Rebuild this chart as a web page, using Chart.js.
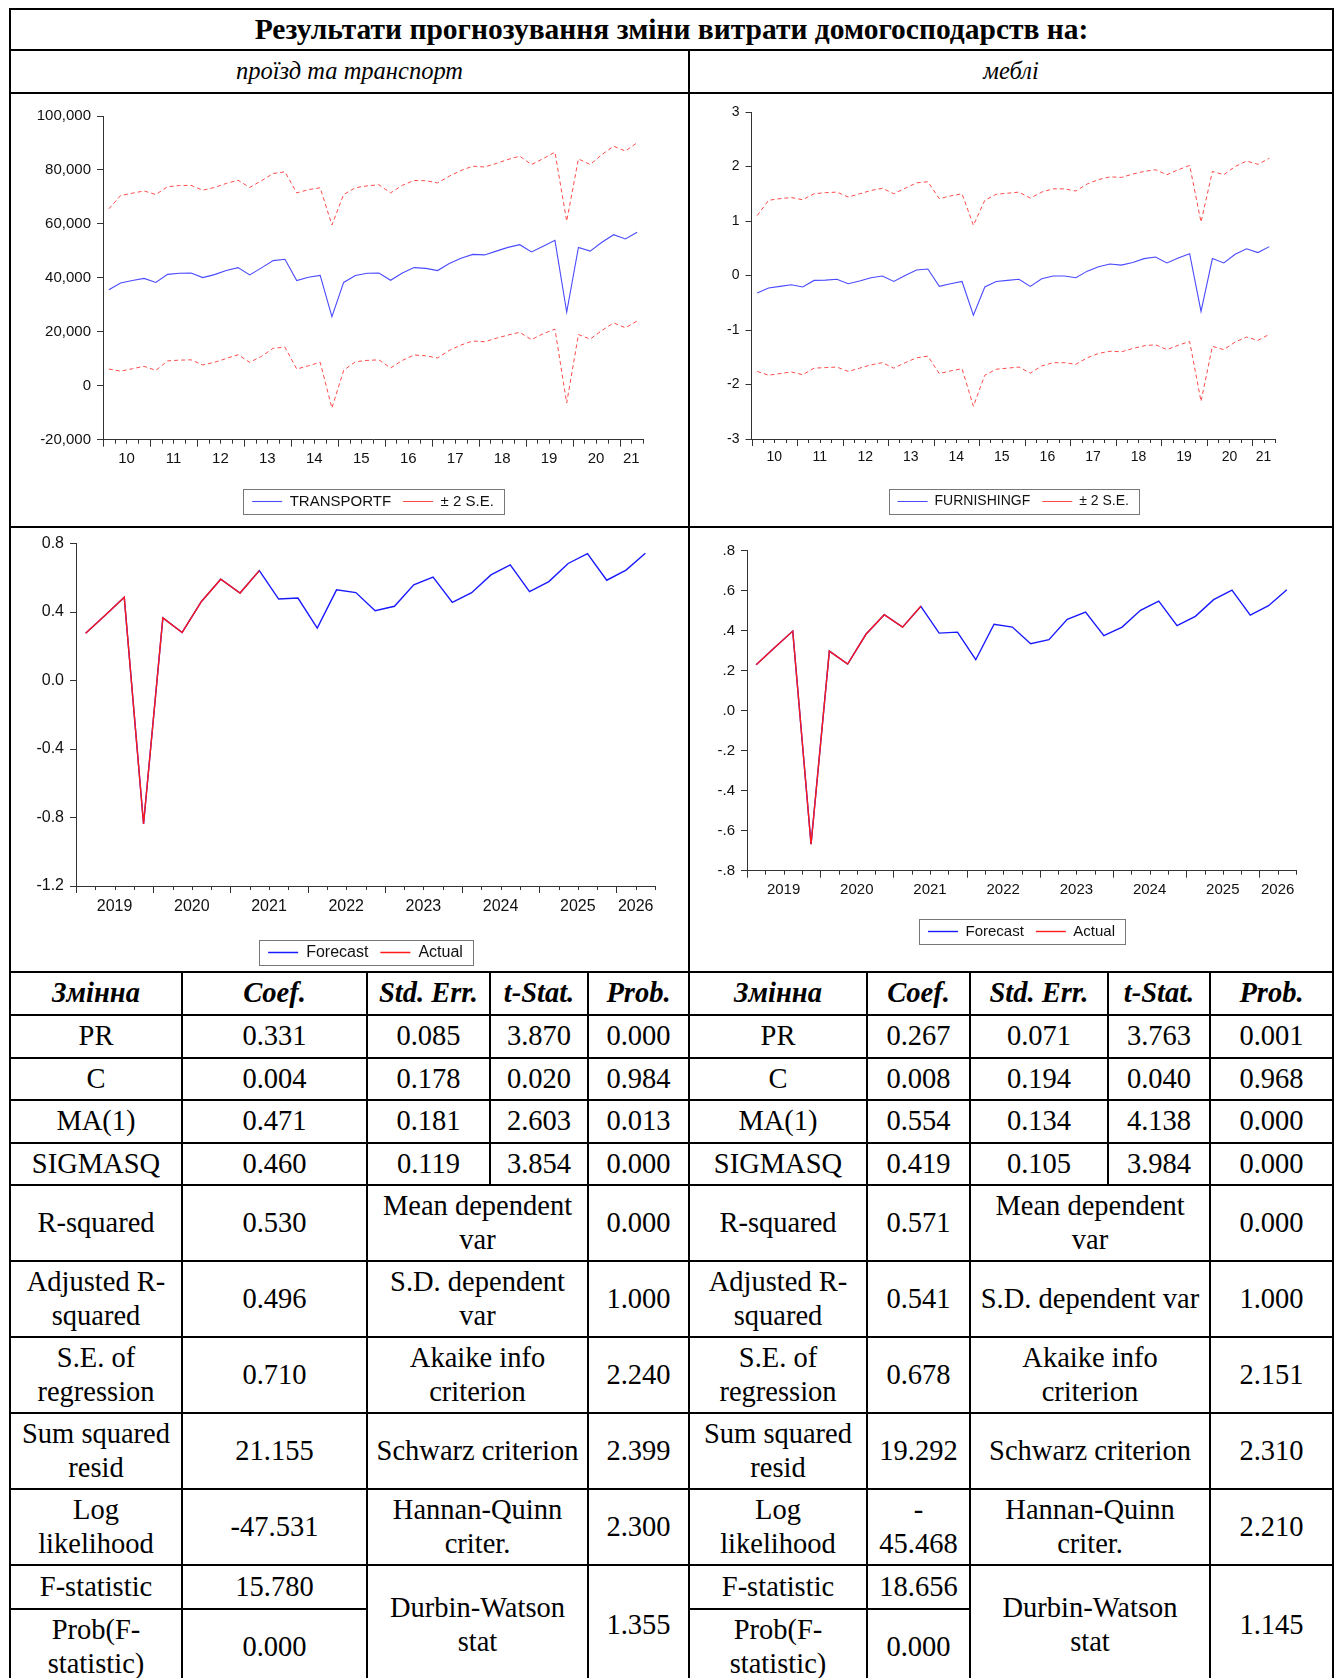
<!DOCTYPE html>
<html lang="uk">
<head>
<meta charset="utf-8">
<script src="https://cdn.jsdelivr.net/npm/chart.js@4.4.1/dist/chart.umd.min.js"></script>
<style>
  html, body { margin: 0; padding: 0; background: #fff; }
  body { width: 1335px; height: 1678px; overflow: hidden; position: relative; }
  table.sheet {
    position: absolute; left: 9px; top: 8px; width: 1325px;
    border-collapse: collapse; table-layout: fixed;
    font-family: 'Liberation Serif', 'Times New Roman', serif;
    font-size: 28.5px; line-height: 1.2; color: #000;
  }
  .sheet td { border: 2px solid #000; padding: 0 4px; text-align: center; vertical-align: middle; white-space: nowrap; overflow: hidden; }
  .sheet td.plot { padding: 0; vertical-align: top; }
  .plotbox { position: relative; }
  .title td { font-weight: bold; font-size: 29.5px; line-height: 1.1; }
  .sub td { font-style: italic; font-size: 24.5px; line-height: 1.1; }
  .head td { font-weight: bold; font-style: italic; }
</style>
</head>
<body>
<table class="sheet">
  <colgroup>
    <col style="width:172px"><col style="width:185px"><col style="width:123px"><col style="width:98px"><col style="width:101px">
    <col style="width:178px"><col style="width:103px"><col style="width:138px"><col style="width:102px"><col style="width:123px">
  </colgroup>
  <tr class="title" style="height:41px"><td colspan="10">Результати прогнозування зміни витрати домогосподарств на:</td></tr>
  <tr class="sub" style="height:43px"><td colspan="5">проїзд та транспорт</td><td colspan="5">меблі</td></tr>
  <tr>
    <td class="plot" colspan="5"><div class="plotbox" style="height:432px"><canvas id="transportBand"></canvas></div></td>
    <td class="plot" colspan="5"><div class="plotbox" style="height:432px"><canvas id="furnishingBand"></canvas></div></td>
  </tr>
  <tr>
    <td class="plot" colspan="5"><div class="plotbox" style="height:443px"><canvas id="transportFc"></canvas></div></td>
    <td class="plot" colspan="5"><div class="plotbox" style="height:443px"><canvas id="furnishingFc"></canvas></div></td>
  </tr>
  <tr class="head" style="height:43px">
    <td>Змінна</td><td>Coef.</td><td>Std. Err.</td><td>t-Stat.</td><td>Prob.</td>
    <td>Змінна</td><td>Coef.</td><td>Std. Err.</td><td>t-Stat.</td><td>Prob.</td>
  </tr>
  <tr style="height:43px"><td>PR</td><td>0.331</td><td>0.085</td><td>3.870</td><td>0.000</td><td>PR</td><td>0.267</td><td>0.071</td><td>3.763</td><td>0.001</td></tr>
  <tr style="height:42px"><td>C</td><td>0.004</td><td>0.178</td><td>0.020</td><td>0.984</td><td>C</td><td>0.008</td><td>0.194</td><td>0.040</td><td>0.968</td></tr>
  <tr style="height:43px"><td>MA(1)</td><td>0.471</td><td>0.181</td><td>2.603</td><td>0.013</td><td>MA(1)</td><td>0.554</td><td>0.134</td><td>4.138</td><td>0.000</td></tr>
  <tr style="height:42px"><td>SIGMASQ</td><td>0.460</td><td>0.119</td><td>3.854</td><td>0.000</td><td>SIGMASQ</td><td>0.419</td><td>0.105</td><td>3.984</td><td>0.000</td></tr>
  <tr style="height:76px"><td>R-squared</td><td>0.530</td><td colspan="2">Mean dependent<br>var</td><td>0.000</td><td>R-squared</td><td>0.571</td><td colspan="2">Mean dependent<br>var</td><td>0.000</td></tr>
  <tr style="height:76px"><td>Adjusted R-<br>squared</td><td>0.496</td><td colspan="2">S.D. dependent<br>var</td><td>1.000</td><td>Adjusted R-<br>squared</td><td>0.541</td><td colspan="2">S.D. dependent var</td><td>1.000</td></tr>
  <tr style="height:76px"><td>S.E. of<br>regression</td><td>0.710</td><td colspan="2">Akaike info<br>criterion</td><td>2.240</td><td>S.E. of<br>regression</td><td>0.678</td><td colspan="2">Akaike info<br>criterion</td><td>2.151</td></tr>
  <tr style="height:76px"><td>Sum squared<br>resid</td><td>21.155</td><td colspan="2">Schwarz criterion</td><td>2.399</td><td>Sum squared<br>resid</td><td>19.292</td><td colspan="2">Schwarz criterion</td><td>2.310</td></tr>
  <tr style="height:76px"><td>Log<br>likelihood</td><td>-47.531</td><td colspan="2">Hannan-Quinn<br>criter.</td><td>2.300</td><td>Log<br>likelihood</td><td>-<br>45.468</td><td colspan="2">Hannan-Quinn<br>criter.</td><td>2.210</td></tr>
  <tr style="height:44px"><td>F-statistic</td><td>15.780</td><td colspan="2" rowspan="2">Durbin-Watson<br>stat</td><td rowspan="2">1.355</td><td>F-statistic</td><td>18.656</td><td colspan="2" rowspan="2">Durbin-Watson<br>stat</td><td rowspan="2">1.145</td></tr>
  <tr style="height:76px"><td>Prob(F-<br>statistic)</td><td>0.000</td><td>Prob(F-<br>statistic)</td><td>0.000</td></tr>
</table>

<script>
// quarters of the history sample (top charts)
const histQuarters = [
  '2010Q1','2010Q2','2010Q3','2010Q4','2011Q1','2011Q2','2011Q3','2011Q4',
  '2012Q1','2012Q2','2012Q3','2012Q4','2013Q1','2013Q2','2013Q3','2013Q4',
  '2014Q1','2014Q2','2014Q3','2014Q4','2015Q1','2015Q2','2015Q3','2015Q4',
  '2016Q1','2016Q2','2016Q3','2016Q4','2017Q1','2017Q2','2017Q3','2017Q4',
  '2018Q1','2018Q2','2018Q3','2018Q4','2019Q1','2019Q2','2019Q3','2019Q4',
  '2020Q1','2020Q2','2020Q3','2020Q4','2021Q1','2021Q2'
];
// quarters of the forecast horizon (bottom charts)
const fcQuarters = [
  '2019Q1','2019Q2','2019Q3','2019Q4','2020Q1','2020Q2','2020Q3','2020Q4',
  '2021Q1','2021Q2','2021Q3','2021Q4','2022Q1','2022Q2','2022Q3','2022Q4',
  '2023Q1','2023Q2','2023Q3','2023Q4','2024Q1','2024Q2','2024Q3','2024Q4',
  '2025Q1','2025Q2','2025Q3','2025Q4','2026Q1','2026Q2'
];

const transportF = [35600, 38100, 39000, 39800, 38300, 41300, 41700, 41800, 40100, 41200, 42700, 43800,
  41100, 43700, 46400, 46900, 39000, 40200, 40900, 25600, 38300, 40900, 41700, 41800, 39100, 41800,
  43800, 43500, 42700, 45300, 47300, 48700, 48500, 49900, 51300, 52300, 49600, 51700, 53900, 27300,
  51300, 49900, 53200, 56000, 54400, 56900];
const transportUpper = [65600, 70500, 71400, 72200, 70900, 73800, 74200, 74300, 72500, 73500, 75000, 76200,
  73500, 76000, 78700, 79300, 71500, 72700, 73400, 59600, 70900, 73400, 74100, 74500, 71500, 74300,
  76100, 76000, 75200, 77700, 79800, 81400, 81100, 82400, 83900, 85100, 82000, 84200, 86600, 61000,
  84100, 82000, 85700, 88800, 87000, 90100];
const transportLower = [6200, 5400, 6300, 7200, 5700, 9200, 9500, 9600, 7700, 8700, 10100, 11500,
  8700, 10900, 13900, 14300, 6200, 7400, 8700, -8300, 5700, 8900, 9400, 9600, 6600, 9400,
  11400, 11100, 10300, 13100, 15100, 16600, 16300, 17600, 18800, 19800, 17100, 19300, 21000, -6400,
  19000, 17300, 20500, 23300, 21500, 24000];

const furnishingF = [-0.32, -0.23, -0.20, -0.17, -0.21, -0.09, -0.085, -0.07, -0.15, -0.10, -0.04, -0.01,
  -0.11, 0.00, 0.10, 0.12, -0.20, -0.15, -0.11, -0.73, -0.21, -0.11, -0.09, -0.07, -0.20, -0.06,
  -0.01, -0.01, -0.04, 0.08, 0.16, 0.21, 0.19, 0.24, 0.31, 0.34, 0.23, 0.32, 0.40, -0.66,
  0.31, 0.23, 0.39, 0.49, 0.42, 0.53];
const furnishingUpper = [1.10, 1.38, 1.41, 1.43, 1.39, 1.50, 1.52, 1.53, 1.44, 1.50, 1.56, 1.60,
  1.50, 1.60, 1.70, 1.72, 1.41, 1.46, 1.50, 0.92, 1.38, 1.49, 1.51, 1.53, 1.42, 1.53,
  1.59, 1.59, 1.55, 1.68, 1.76, 1.81, 1.80, 1.86, 1.91, 1.94, 1.85, 1.94, 2.02, 0.98,
  1.91, 1.85, 2.00, 2.10, 2.04, 2.15];
const furnishingLower = [-1.76, -1.83, -1.80, -1.77, -1.82, -1.70, -1.69, -1.68, -1.76, -1.70, -1.64, -1.60,
  -1.70, -1.60, -1.51, -1.48, -1.80, -1.75, -1.71, -2.40, -1.83, -1.72, -1.70, -1.68, -1.79, -1.66,
  -1.60, -1.60, -1.63, -1.51, -1.43, -1.39, -1.40, -1.34, -1.29, -1.27, -1.36, -1.28, -1.21, -2.31,
  -1.30, -1.36, -1.22, -1.13, -1.19, -1.08];

const transportForecast = [0.276, 0.38, 0.486, -0.838, 0.366, 0.281, 0.462, 0.592, 0.511, 0.642,
  0.476, 0.482, 0.306, 0.530, 0.514, 0.408, 0.434, 0.559, 0.605, 0.457,
  0.513, 0.617, 0.676, 0.520, 0.578, 0.684, 0.742, 0.586, 0.645, 0.744];
const transportActual = [0.276, 0.38, 0.486, -0.838, 0.366, 0.281, 0.462, 0.592, 0.511, 0.642];

const furnishingForecast = [0.230, 0.315, 0.398, -0.668, 0.298, 0.233, 0.382, 0.480, 0.418, 0.522,
  0.388, 0.393, 0.255, 0.432, 0.418, 0.335, 0.355, 0.457, 0.493, 0.375,
  0.418, 0.502, 0.548, 0.425, 0.472, 0.555, 0.603, 0.478, 0.525, 0.605];
const furnishingActual = [0.230, 0.315, 0.398, -0.668, 0.298, 0.233, 0.382, 0.480, 0.418, 0.522];

const AXIS = '#333';
const INK = '#111';
const SANS = "'Liberation Sans', Arial, sans-serif";

const pts = (arr) => arr.map((v, i) => ({ x: i, y: v }));

// year groups -> label at the middle of that year's quarters
const yearTicks = (quarters, short) => {
  const years = [];
  quarters.forEach((q, i) => {
    const y = q.slice(0, 4);
    const last = years[years.length - 1];
    if (last && last.year === y) last.end = i;
    else years.push({ year: y, start: i, end: i });
  });
  return years.map(g => ({ value: (g.start + g.end) / 2, label: short ? g.year.slice(2) : g.year }));
};

// quarter tick marks under the x axis, longer at each new year
const quarterTicks = {
  id: 'quarterTicks',
  afterDraw(chart) {
    const xs = chart.scales.x;
    const labels = chart.data.labels;
    const ctx = chart.ctx;
    ctx.save();
    ctx.strokeStyle = AXIS;
    ctx.lineWidth = 1;
    ctx.beginPath();
    for (let i = 0; i <= labels.length; i++) {
      const px = Math.round(xs.getPixelForValue(i - 0.5)) + 0.5;
      const major = i < labels.length && labels[i].endsWith('Q1');
      ctx.moveTo(px, xs.top);
      ctx.lineTo(px, xs.top + (major ? 7 : 4));
    }
    ctx.stroke();
    ctx.restore();
  }
};

// EViews-like frame around the legend
const legendFrame = {
  id: 'legendFrame',
  afterDraw(chart) {
    const lg = chart.legend;
    if (!lg || !lg.legendHitBoxes || !lg.legendHitBoxes.length) return;
    const boxes = lg.legendHitBoxes;
    const left = Math.min(...boxes.map(b => b.left)) - 9;
    const right = Math.max(...boxes.map(b => b.left + b.width)) + 10;
    const mid = boxes[0].top + boxes[0].height / 2;
    const ctx = chart.ctx;
    ctx.save();
    ctx.strokeStyle = '#777';
    ctx.lineWidth = 1;
    ctx.strokeRect(Math.round(left) + 0.5, Math.round(mid - 12.5) + 0.5, Math.round(right - left), 25);
    ctx.restore();
  }
};

const makeChart = (id, o) => {
  const ticksX = yearTicks(o.quarters, o.shortYears);
  const font = { family: SANS, size: o.fontSize };
  return new Chart(document.getElementById(id), {
    type: 'line',
    data: { labels: o.quarters, datasets: o.datasets },
    options: {
      responsive: true,
      maintainAspectRatio: false,
      animation: false,
      devicePixelRatio: 1,
      layout: { padding: { top: o.pad.top, right: o.pad.right, bottom: o.pad.bottom, left: 0 } },
      elements: { point: { radius: 0 }, line: { tension: 0 } },
      scales: {
        x: {
          type: 'linear',
          min: -0.5,
          max: o.quarters.length - 0.5,
          grid: { display: false, drawTicks: false },
          border: { display: true, color: AXIS, width: 1 },
          afterBuildTicks: (s) => { s.ticks = ticksX.map(t => ({ value: t.value })); },
          afterFit: (s) => { s.height = o.xHeight; },
          ticks: {
            autoSkip: false, maxRotation: 0, padding: o.xPad, color: INK, font,
            callback: (v, i) => ticksX[i] ? ticksX[i].label : ''
          }
        },
        y: {
          min: o.yMin, max: o.yMax,
          grid: { drawOnChartArea: false, drawTicks: true, tickLength: 6, color: AXIS },
          border: { color: AXIS, width: 1 },
          afterFit: (s) => { s.width = o.yWidth; },
          ticks: { stepSize: o.yStep, padding: 6, color: INK, font, callback: o.yFormat }
        }
      },
      plugins: {
        tooltip: { enabled: false },
        legend: {
          position: 'bottom',
          fullSize: false,
          labels: {
            usePointStyle: true, pointStyle: 'line', pointStyleWidth: 30, boxHeight: o.fontSize,
            padding: 12, color: INK, font,
            filter: (item) => !o.hideInLegend || !o.hideInLegend.includes(item.datasetIndex),
            sort: (a, b) => a.datasetIndex - b.datasetIndex
          }
        }
      }
    },
    plugins: [quarterTicks, legendFrame]
  });
};

const bandSets = (name, mid, up, low) => [
  { label: name, data: pts(mid), borderColor: '#4a4aff', borderWidth: 1.1 },
  { label: '\u00b1 2 S.E.', data: pts(up), borderColor: '#ff4a4a', borderWidth: 1, borderDash: [4, 3] },
  { label: '\u00b1 2 S.E.', data: pts(low), borderColor: '#ff4a4a', borderWidth: 1, borderDash: [4, 3] }
];

const fcSets = (fc, act) => [
  { label: 'Forecast', data: pts(fc), borderColor: '#1a1aff', borderWidth: 1.4, order: 1 },
  { label: 'Actual', data: pts(act), borderColor: '#ff1a1a', borderWidth: 1.4, order: 0 }
];

makeChart('transportBand', {
  quarters: histQuarters, shortYears: true, fontSize: 15,
  datasets: bandSets('TRANSPORTF', transportF, transportUpper, transportLower),
  hideInLegend: [2],
  yMin: -20000, yMax: 100000, yStep: 20000,
  yFormat: (v) => v.toLocaleString('en-US'),
  pad: { top: 22, right: 45, bottom: 7 }, yWidth: 92, xHeight: 42.3, xPad: 10
});

makeChart('furnishingBand', {
  quarters: histQuarters, shortYears: true, fontSize: 14,
  datasets: bandSets('FURNISHINGF', furnishingF, furnishingUpper, furnishingLower),
  hideInLegend: [2],
  yMin: -3, yMax: 3, yStep: 1,
  yFormat: (v) => String(Math.round(v)),
  pad: { top: 18, right: 57, bottom: 7.5 }, yWidth: 61.5, xHeight: 43.5, xPad: 9.6
});

makeChart('transportFc', {
  quarters: fcQuarters, shortYears: false, fontSize: 16,
  datasets: fcSets(transportForecast, transportActual),
  yMin: -1.2, yMax: 0.8, yStep: 0.4,
  yFormat: (v) => (Math.abs(v) < 1e-9 ? 0 : v).toFixed(1),
  pad: { top: 12, right: 33, bottom: 0.5 }, yWidth: 65, xHeight: 46.5, xPad: 11.4
});

makeChart('furnishingFc', {
  quarters: fcQuarters, shortYears: false, fontSize: 15,
  datasets: fcSets(furnishingForecast, furnishingActual),
  yMin: -0.8, yMax: 0.8, yStep: 0.2,
  yFormat: (v) => (Math.abs(v) < 1e-9 ? 0 : v).toFixed(1).replace('0.', '.'),
  pad: { top: 22.7, right: 36, bottom: 22 }, yWidth: 57, xHeight: 41.3, xPad: 10.3
});
</script>
</body>
</html>
